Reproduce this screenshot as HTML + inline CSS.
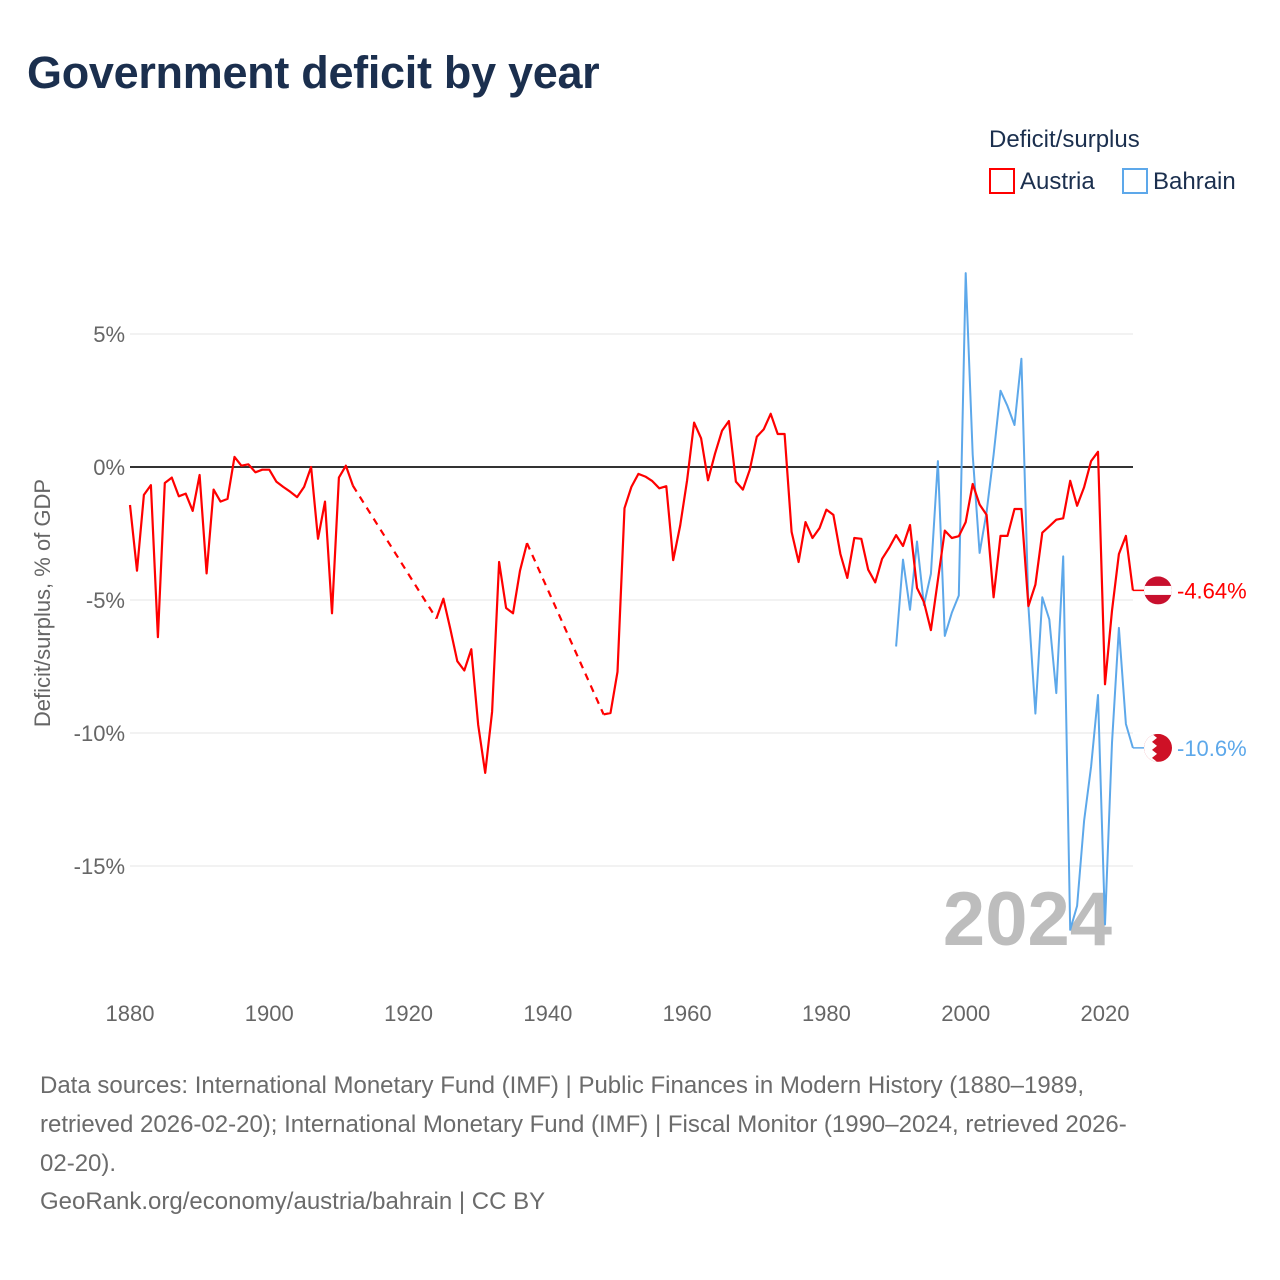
<!DOCTYPE html>
<html><head><meta charset="utf-8"><style>
body{margin:0;background:#fff;font-family:"Liberation Sans",sans-serif;}
#wrap{position:relative;width:1280px;height:1280px;overflow:hidden;}
h1{position:absolute;left:27px;top:47px;margin:0;font-size:45px;font-weight:bold;color:#1b2f4e;letter-spacing:-0.3px;}
.foot{position:absolute;left:40px;font-size:24px;color:#6b6b6b;line-height:39px;white-space:nowrap;}
</style></head><body>
<div id="wrap">
<h1>Government deficit by year</h1>
<svg id="chart" width="1280" height="1280" style="position:absolute;left:0;top:0"></svg>
<div class="foot" style="top:1066px">Data sources: International Monetary Fund (IMF) | Public Finances in Modern History (1880–1989,<br>retrieved 2026-02-20); International Monetary Fund (IMF) | Fiscal Monitor (1990–2024, retrieved 2026-<br>02-20).</div>
<div class="foot" style="top:1182px">GeoRank.org/economy/austria/bahrain | CC BY</div>
</div>
<script>
const austriaYears=[1880,1881,1882,1883,1884,1885,1886,1887,1888,1889,1890,1891,1892,1893,1894,1895,1896,1897,1898,1899,1900,1901,1902,1903,1904,1905,1906,1907,1908,1909,1910,1911,1912,1924,1925,1926,1927,1928,1929,1930,1931,1932,1933,1934,1935,1936,1937,1948,1949,1950,1951,1952,1953,1954,1955,1956,1957,1958,1959,1960,1961,1962,1963,1964,1965,1966,1967,1968,1969,1970,1971,1972,1973,1974,1975,1976,1977,1978,1979,1980,1981,1982,1983,1984,1985,1986,1987,1988,1989,1990,1991,1992,1993,1994,1995,1996,1997,1998,1999,2000,2001,2002,2003,2004,2005,2006,2007,2008,2009,2010,2011,2012,2013,2014,2015,2016,2017,2018,2019,2020,2021,2022,2023,2024];
const austriaValues=[-1.43,-3.9,-1.05,-0.68,-6.4,-0.6,-0.4,-1.1,-1.0,-1.65,-0.3,-4.0,-0.85,-1.3,-1.2,0.38,0.05,0.1,-0.2,-0.1,-0.1,-0.55,-0.75,-0.93,-1.13,-0.75,0,-2.7,-1.3,-5.5,-0.4,0.05,-0.7,-5.7,-4.95,-6.1,-7.3,-7.65,-6.85,-9.7,-11.5,-9.2,-3.57,-5.3,-5.5,-3.9,-2.86,-9.3,-9.25,-7.7,-1.55,-0.75,-0.26,-0.36,-0.53,-0.8,-0.72,-3.5,-2.2,-0.5,1.67,1.08,-0.5,0.5,1.36,1.73,-0.55,-0.85,-0.1,1.14,1.42,2.0,1.24,1.24,-2.44,-3.57,-2.07,-2.67,-2.3,-1.6,-1.8,-3.27,-4.17,-2.67,-2.7,-3.86,-4.34,-3.45,-3.04,-2.56,-2.97,-2.18,-4.55,-5.07,-6.13,-4.25,-2.39,-2.67,-2.6,-2.07,-0.64,-1.41,-1.8,-4.9,-2.59,-2.59,-1.58,-1.58,-5.23,-4.42,-2.47,-2.23,-1.98,-1.93,-0.52,-1.46,-0.76,0.22,0.57,-8.17,-5.4,-3.27,-2.59,-4.64];
const bahrainYears=[1990,1991,1992,1993,1994,1995,1996,1997,1998,1999,2000,2001,2002,2003,2004,2005,2006,2007,2008,2009,2010,2011,2012,2013,2014,2015,2016,2017,2018,2019,2020,2021,2022,2023,2024];
const bahrainValues=[-6.75,-3.48,-5.37,-2.8,-5.19,-4.02,0.22,-6.35,-5.48,-4.83,7.29,0.46,-3.23,-1.69,0.46,2.87,2.29,1.58,4.07,-5.23,-9.27,-4.9,-5.73,-8.5,-3.36,-17.4,-16.5,-13.3,-11.26,-8.57,-17.2,-10.37,-6.05,-9.66,-10.56];
const yTicks=[5,0,-5,-10,-15];
const yTickLabels=["5%","0%","-5%","-10%","-15%"];
const xTicks=[1880,1900,1920,1940,1960,1980,2000,2020];

const NS="http://www.w3.org/2000/svg";
const svg=document.getElementById('chart');
const X=y=>130+(y-1880)*975/140;
const Y=v=>467-v*26.6;
function mk(tag,attrs,parent){const e=document.createElementNS(NS,tag);for(const k in attrs)e.setAttribute(k,attrs[k]);(parent||svg).appendChild(e);return e;}

yTicks.forEach((t,i)=>{
  if(t!==0){const g=mk('line',{x1:130,x2:1133,y1:Y(t),y2:Y(t),stroke:'#e6e6e6','stroke-width':1});
  
  }
  const l=mk('text',{x:125,y:Y(t)+8,'text-anchor':'end','font-size':22,fill:'#666','font-family':'Liberation Sans, sans-serif'});
  l.textContent=yTickLabels[i];
  
  
});
xTicks.forEach(t=>{
  const l=mk('text',{x:X(t),y:1021,'text-anchor':'middle','font-size':22,fill:'#666','font-family':'Liberation Sans, sans-serif'});
  l.textContent=t;
  
  
});
const yt=mk('text',{transform:'translate(50,603) rotate(-90)','text-anchor':'middle','font-size':22,fill:'#666','font-family':'Liberation Sans, sans-serif'});
yt.textContent='Deficit/surplus, % of GDP';



const yr=mk('text',{x:1112,y:945,'text-anchor':'end','font-size':76,'font-weight':'bold',fill:'#bdbdbd','font-family':'Liberation Sans, sans-serif'});
yr.textContent='2024';



const zl=mk('line',{x1:130,x2:1133,y1:Y(0),y2:Y(0),stroke:'#333','stroke-width':2});



function drawSeries(years,vals,color,name,w){
  let d='';
  for(let i=0;i<years.length;i++){
    const gap=i>0&&years[i]-years[i-1]>1;
    d+=(i===0||gap?'M':'L')+X(years[i]).toFixed(1)+','+Y(vals[i]).toFixed(1);
    if(gap){const p=mk('line',{x1:X(years[i-1]),y1:Y(vals[i-1]),x2:X(years[i]),y2:Y(vals[i]),stroke:color,'stroke-width':w,'stroke-dasharray':'7,6'});
      
      }
  }
  const p=mk('path',{d:d,fill:'none',stroke:color,'stroke-width':w,'stroke-linejoin':'round'});
  
  
  const n=years.length-1;
  mk('line',{x1:X(years[n]),x2:1150,y1:Y(vals[n]),y2:Y(vals[n]),stroke:color,'stroke-width':1.5});
}
drawSeries(bahrainYears,bahrainValues,'#5da8ea','bahrain',2);
drawSeries(austriaYears,austriaValues,'#ff0000','austria',2.2);

function endLabel(v,color,text,name,flag){
  const cy=Y(v),cx=1158;
  const g=mk('g',{});
  
  
  const cp=mk('clipPath',{id:'c'+name},g);mk('circle',{cx:cx,cy:cy,r:14},cp);
  const gg=mk('g',{'clip-path':'url(#c'+name+')'},g);
  if(flag==='at'){mk('rect',{x:cx-14,y:cy-14,width:28,height:28,fill:'#c8102e'},gg);mk('rect',{x:cx-14,y:cy-4.5,width:28,height:9,fill:'#fff'},gg);}
  else{mk('rect',{x:cx-14,y:cy-14,width:28,height:28,fill:'#ce1126'},gg);
    mk('polygon',{points:`${cx-14},${cy-14} ${cx-6},${cy-14} ${cx-1},${cy-10} ${cx-6},${cy-6} ${cx-1},${cy-2} ${cx-6},${cy+2} ${cx-1},${cy+6} ${cx-6},${cy+10} ${cx-1},${cy+14} ${cx-14},${cy+14}`,fill:'#fff'},gg);}
  const t=mk('text',{x:1177,y:cy+8,'font-size':22,fill:color,'font-family':'Liberation Sans, sans-serif'});
  t.textContent=text;
  
  
}
endLabel(austriaValues[austriaValues.length-1],'#ff0000','-4.64%','austria','at');
endLabel(bahrainValues[bahrainValues.length-1],'#5da8ea','-10.6%','bahrain','bh');

const lt=mk('text',{x:989,y:147,'font-size':24,fill:'#1b2f4e','font-family':'Liberation Sans, sans-serif'});
lt.textContent='Deficit/surplus';


[[990,'#ff0000','Austria','legend-austria'],[1123,'#5da8ea','Bahrain','legend-bahrain']].forEach(a=>{
  const r=mk('rect',{x:a[0],y:169,width:24,height:24,fill:'none',stroke:a[1],'stroke-width':2});
  
  
  const t=mk('text',{x:a[0]+30,y:189,'font-size':24,fill:'#1b2f4e','font-family':'Liberation Sans, sans-serif'});
  t.textContent=a[2];
  
  
});
</script>
</body></html>
